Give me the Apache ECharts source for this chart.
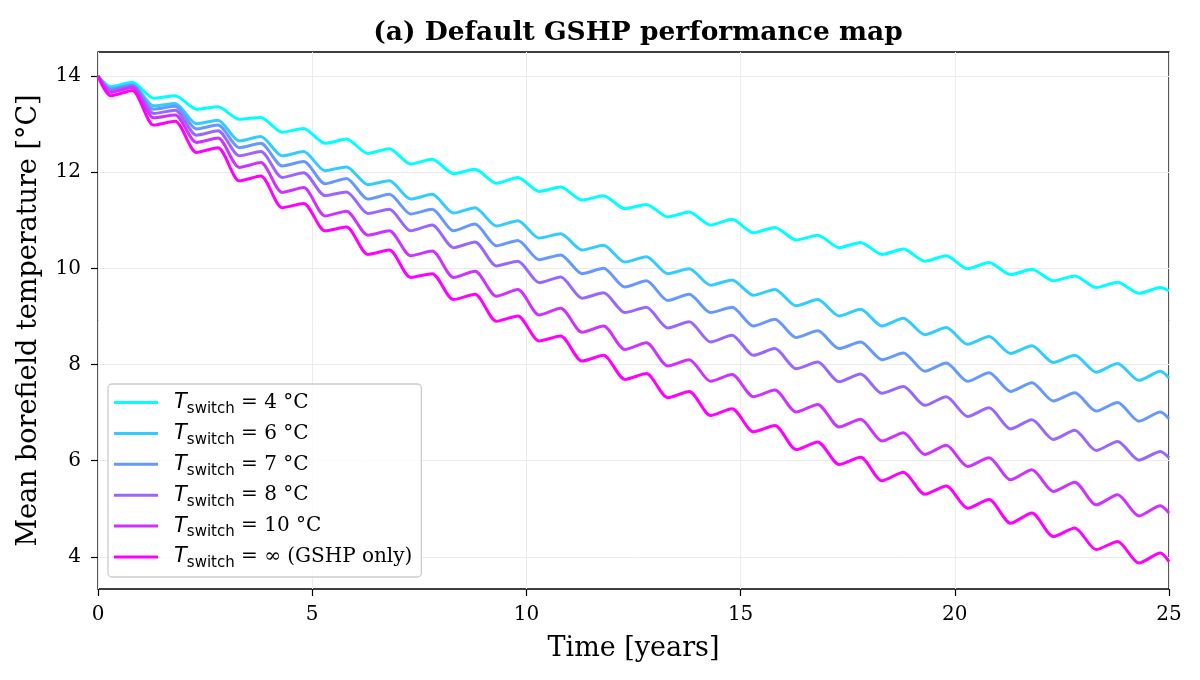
<!DOCTYPE html>
<html>
<head>
<meta charset="utf-8">
<title>Default GSHP performance map</title>
<script src="https://cdn.jsdelivr.net/npm/echarts@6/dist/echarts.min.js"></script>
<style>
    html, body { margin: 0; padding: 0; background: #fff; }
    #chart { width: 1200px; height: 680px; }
</style>
</head>
<body>
<div id="chart"></div>
<script>
// time samples (years): start, then yearly trough / peak of each cycle, end
const timeYears = [
    0,
    0.3, 0.8, 1.3, 1.8, 2.3, 2.8, 3.3, 3.8, 4.3, 4.8,
    5.3, 5.8, 6.3, 6.8, 7.3, 7.8, 8.3, 8.8, 9.3, 9.8,
    10.3, 10.8, 11.3, 11.8, 12.3, 12.8, 13.3, 13.8, 14.3, 14.8,
    15.3, 15.8, 16.3, 16.8, 17.3, 17.8, 18.3, 18.8, 19.3, 19.8,
    20.3, 20.8, 21.3, 21.8, 22.3, 22.8, 23.3, 23.8, 24.3, 24.8,
    25,
];

// mean borefield temperature [°C]
const tempSwitch4 = [
    14.0,
    13.78, 13.87, 13.54, 13.59, 13.31, 13.36, 13.10, 13.14, 12.83, 12.91,
    12.60, 12.69, 12.39, 12.49, 12.17, 12.27, 11.97, 12.06, 11.77, 11.89,
    11.60, 11.69, 11.42, 11.51, 11.24, 11.33, 11.07, 11.17, 10.90, 11.02,
    10.74, 10.85, 10.59, 10.69, 10.43, 10.54, 10.29, 10.40, 10.15, 10.26,
    9.99, 10.12, 9.87, 9.98, 9.74, 9.84, 9.60, 9.71, 9.48, 9.60,
    9.53,
];
const tempSwitch6 = [
    14.0,
    13.75, 13.83, 13.38, 13.43, 13.01, 13.08, 12.65, 12.74, 12.34, 12.43,
    12.03, 12.11, 11.74, 11.82, 11.44, 11.54, 11.15, 11.26, 10.88, 10.99,
    10.63, 10.72, 10.38, 10.48, 10.13, 10.24, 9.89, 9.99, 9.65, 9.76,
    9.44, 9.56, 9.22, 9.35, 9.01, 9.15, 8.80, 8.96, 8.62, 8.77,
    8.42, 8.58, 8.23, 8.39, 8.04, 8.19, 7.84, 8.02, 7.67, 7.86,
    7.72,
];
const tempSwitch7 = [
    14.0,
    13.73, 13.81, 13.31, 13.37, 12.90, 12.98, 12.51, 12.60, 12.13, 12.22,
    11.76, 11.87, 11.44, 11.54, 11.13, 11.23, 10.78, 10.92, 10.47, 10.58,
    10.18, 10.28, 9.89, 10.00, 9.61, 9.74, 9.33, 9.46, 9.08, 9.19,
    8.80, 8.94, 8.56, 8.70, 8.33, 8.47, 8.10, 8.24, 7.86, 8.03,
    7.65, 7.83, 7.44, 7.62, 7.24, 7.41, 7.03, 7.21, 6.82, 7.01,
    6.87,
];
const tempSwitch8 = [
    14.0,
    13.70, 13.79, 13.22, 13.29, 12.77, 12.86, 12.34, 12.43, 11.89, 11.99,
    11.51, 11.59, 11.14, 11.23, 10.78, 10.90, 10.43, 10.55, 10.05, 10.15,
    9.70, 9.82, 9.38, 9.49, 9.08, 9.19, 8.76, 8.89, 8.47, 8.61,
    8.19, 8.33, 7.91, 8.05, 7.64, 7.80, 7.40, 7.54, 7.15, 7.33,
    6.92, 7.10, 6.66, 6.85, 6.44, 6.63, 6.21, 6.40, 6.01, 6.19,
    6.06,
];
const tempSwitch10 = [
    14.0,
    13.66, 13.76, 13.13, 13.19, 12.62, 12.71, 12.10, 12.20, 11.58, 11.68,
    11.09, 11.19, 10.69, 10.78, 10.26, 10.36, 9.81, 9.94, 9.42, 9.56,
    9.03, 9.17, 8.67, 8.80, 8.31, 8.45, 7.97, 8.10, 7.65, 7.79,
    7.33, 7.47, 7.01, 7.17, 6.70, 6.86, 6.41, 6.58, 6.13, 6.32,
    5.88, 6.06, 5.60, 5.81, 5.36, 5.55, 5.08, 5.29, 4.85, 5.06,
    4.91,
];
const tempGshpOnly = [
    14.0,
    13.59, 13.70, 12.98, 13.06, 12.41, 12.51, 11.82, 11.92, 11.26, 11.35,
    10.78, 10.86, 10.29, 10.38, 9.81, 9.89, 9.35, 9.46, 8.90, 9.01,
    8.49, 8.59, 8.07, 8.19, 7.69, 7.81, 7.31, 7.44, 6.94, 7.08,
    6.60, 6.73, 6.23, 6.39, 5.92, 6.07, 5.58, 5.76, 5.30, 5.47,
    5.01, 5.19, 4.70, 4.91, 4.42, 4.60, 4.15, 4.32, 3.87, 4.08,
    3.90,
];

const seriesNames = ['4 °C', '6 °C', '7 °C', '8 °C', '10 °C', '∞ (GSHP only)'];
const seriesValues = [tempSwitch4, tempSwitch6, tempSwitch7, tempSwitch8, tempSwitch10, tempGshpOnly];
const yTicks = [4, 6, 8, 10, 12, 14];

const colors = ['#00ffff', '#33ccff', '#6699ff', '#9966ff', '#cc33ff', '#ff00ff'];
const serif = 'DejaVu Serif';

const chart = echarts.init(document.getElementById('chart'));

const series = seriesNames.map((name, i) => ({
    name: name,
    type: 'line',
    data: timeYears.map((t, k) => [t, seriesValues[i][k]]),
    smooth: 0.25,
    symbol: 'none',
    showSymbol: false,
    lineStyle: { width: 3, color: colors[i] },
    itemStyle: { color: colors[i] },
}));

chart.setOption({
    animation: false,
    backgroundColor: '#fff',
    title: {
        text: '(a) Default GSHP performance map',
        left: 633,
        textAlign: 'center',
        top: 15,
        textStyle: { fontFamily: serif, fontWeight: 'bold', fontSize: 26.5, color: '#000' },
    },
    grid: {
        left: 98,
        right: 31,
        top: 52,
        bottom: 91,
        show: true,
        borderColor: '#000',
        borderWidth: 1.3,
        backgroundColor: 'transparent',
    },
    legend: {
        orient: 'vertical',
        left: 108,
        top: 384,
        padding: [8, 9, 6, 6],
        backgroundColor: 'rgba(255,255,255,0.8)',
        borderColor: '#cccccc',
        borderWidth: 1.3,
        borderRadius: 4,
        icon: 'rect',
        itemWidth: 44,
        itemHeight: 3,
        itemGap: 6.4,
        data: seriesNames,
        formatter: (name) => '{t|T}{s|switch}{n| = ' + name + '}',
        textStyle: {
            rich: {
                t: { fontFamily: 'DejaVu Sans', fontStyle: 'italic', fontSize: 21, lineHeight: 28, color: '#000', padding: [0, 0, 0, 11] },
                s: { fontFamily: 'DejaVu Sans', fontSize: 15, lineHeight: 15, verticalAlign: 'bottom', color: '#000' },
                n: { fontFamily: serif, fontSize: 20, lineHeight: 28, color: '#000' },
            },
        },
    },
    xAxis: {
        type: 'value',
        min: 0,
        max: 25,
        interval: 5,
        name: 'Time [years]',
        nameLocation: 'middle',
        nameGap: 46,
        nameTextStyle: { fontFamily: serif, fontSize: 27, color: '#000' },
        axisLine: { show: false },
        axisTick: { show: true, inside: false, length: 7, lineStyle: { color: '#000', width: 1.2 } },
        axisLabel: { fontFamily: serif, fontSize: 20, color: '#000', margin: 16 },
        splitLine: { show: true, lineStyle: { color: '#ebebeb', width: 1 } },
    },
    yAxis: {
        type: 'value',
        min: 3.33,
        max: 14.5,
        name: 'Mean borefield temperature [°C]',
        nameLocation: 'middle',
        nameGap: 56,
        nameTextStyle: { fontFamily: serif, fontSize: 27, color: '#000' },
        axisLine: { show: false },
        axisTick: { show: true, length: 7, customValues: yTicks, lineStyle: { color: '#000', width: 1.2 } },
        axisLabel: { fontFamily: serif, fontSize: 20, color: '#000', margin: 17, customValues: yTicks },
        splitLine: { show: true, lineStyle: { color: '#ebebeb', width: 1 } },
    },
    series: series,
});
</script>
</body>
</html>
